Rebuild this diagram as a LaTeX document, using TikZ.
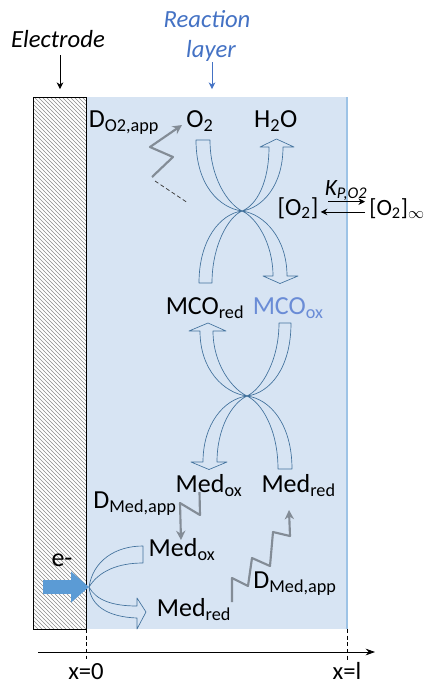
\documentclass[tikz,border=0pt]{standalone}
\usepackage{fontspec}
\setmainfont{Carlito}
\usepackage{tikz}
\usetikzlibrary{arrows.meta,patterns,positioning}
\definecolor{layerblue}{HTML}{D7E4F3}
\definecolor{layeredge}{HTML}{9DC3E6}
\definecolor{titleblue}{HTML}{4472C4}
\definecolor{bandblue}{HTML}{41719C}
\definecolor{eblue}{HTML}{5B9BD5}
\definecolor{zzgray}{HTML}{838C96}
\definecolor{mcoblue}{HTML}{6A8CD6}
\tikzset{%
	chem/.style    = {inner sep=0pt, anchor=base, font=\fontsize{19.5}{21}\selectfont},
	title/.style   = {inner sep=0pt, anchor=base, font=\fontsize{18.5}{20}\selectfont\itshape},
	band/.style    = {draw=bandblue, fill=layerblue, line width=0.5pt, line join=round}, % curved arrows
	zigzag/.style  = {draw=zzgray, line width=1.6pt, line join=round, -{Stealth[length=7pt,width=7pt]}},
	dashline/.style= {draw=black!75, densely dashed, line width=0.6pt},
	arrow/.style   = {-{Stealth[length=5pt,width=5pt]}, line width=0.6pt},
	tick/.style    = {densely dashed, line width=0.5pt},
	earrow/.style  = {draw=eblue, line width=10.5pt, -{Triangle[length=13.5pt,width=22.5pt]}},
}
\begin{document}
\begin{tikzpicture}[x=0.75pt,y=-0.75pt]
	\useasboundingbox (0,0) rectangle (427,687);
	% electrode and reaction layer
	\fill[layerblue] (86,97) rectangle (347,629);
	\draw[layeredge, line width=1pt] (347,97) -- (347,629);
	\draw[pattern=north west lines, pattern color=black!45, line width=0.6pt] (33,97) rectangle (86,629);
	
	\node [title] (electrode) at (58,47) {Electrode};
	\node [title,text=titleblue] (reaction) at (207,27) {Reaction};
	\node [title,text=titleblue] (layer) at (211,57) {layer};
	\coordinate (etip) at (60,89);
	\coordinate (rtip) at (212,89);
	\draw[arrow] (electrode.south -| etip) ++(0,8) -- (etip);
	\draw[arrow,titleblue] (layer.south -| rtip) ++(0,1) -- (rtip);
	
	% oxygen side
	\node [chem] (o2) at (200,127) {O\textsubscript{2}};
	\node [chem,base right=30pt of o2] (h2o) {H\textsubscript{2}O};
	\node [chem] (do2) at (124,127) {D\textsubscript{O2,app}};
	\node [chem,font=\fontsize{17.5}{19}\selectfont\itshape] (kp) at (346,195) {K\textsubscript{P,O2}};
	\node [chem,font=\fontsize{18.5}{20}\selectfont] (o2in) at (298,215) {[O\textsubscript{2}]};
	\node [chem,anchor=base east,font=\fontsize{17.5}{19}\selectfont] (o2inf) at (425,215) {[O\textsubscript{2}]\textsubscript{$\infty$}};
	\draw[arrow] ([xshift=7pt,yshift=10pt]o2in.base east) -- ([xshift=-3pt,yshift=10pt]o2inf.base west);
	\draw[arrow] ([xshift=-3pt,yshift=2.3pt]o2inf.base west) -- ([xshift=1.5pt,yshift=2.3pt]o2in.base east);
	
	% enzyme and mediator
	\node [chem] (mcored) at (205,314) {MCO\textsubscript{red}};
	\node [chem,base right=6pt of mcored,text=mcoblue] (mcoox) {MCO\textsubscript{ox}};
	\node [chem] (medox) at (209,492) {Med\textsubscript{ox}};
	\node [chem,base right=14pt of medox] (medred) {Med\textsubscript{red}};
	\node [chem] (dmed) at (135,508) {D\textsubscript{Med,app}};
	\node [chem] (medoxs) at (182,556) {Med\textsubscript{ox}};
	\node [chem] (medreds) at (194,616) {Med\textsubscript{red}};
	\node [chem] (dmeds) at (295,588) {D\textsubscript{Med,app}};
	\node [chem] (elec) at (62,566) {e-};
	
	% O2 -> H2O and MCOred -> MCOox
	\draw[band] (196,140) -- (210,140) .. controls (210,178) and (228,204) .. (242,211)
		.. controls (257,205) and (269,182) .. (269,147) -- (260,147) -- (276.5,139) -- (294,147) -- (283,147)
		.. controls (283,186) and (262,208) .. (242,211) .. controls (220,208) and (196,186) .. cycle;
	\draw[band] (199,283) -- (212,283) .. controls (212,246) and (228,217) .. (242,211)
		.. controls (256,217) and (273,243) .. (273,276) -- (263,276) -- (280,283.5) -- (298,276) -- (287,276)
		.. controls (287,238) and (264,214) .. (242,211) .. controls (220,214) and (199,240) .. cycle;
	% MCOox -> MCOred and Medred -> Medox
	\draw[band] (291,323) -- (279,323) .. controls (279,360) and (262,389) .. (247,396)
		.. controls (232,389) and (213,364) .. (213,331) -- (226,331) -- (208,323) -- (189,331) -- (200,331)
		.. controls (200,370) and (224,393) .. (247,396) .. controls (270,393) and (291,368) .. cycle;
	\draw[band] (292,469) -- (278,469) .. controls (278,430) and (262,403) .. (247,396)
		.. controls (232,403) and (217,428) .. (217,462) -- (227,462) -- (209,469.5) -- (191,462) -- (203,462)
		.. controls (203,424) and (224,399) .. (247,396) .. controls (270,399) and (292,424) .. cycle;
	
	% electron transfer at x=0
	\coordinate (estart) at (43,587);
	\coordinate (efork) at (89,587);
	\draw[earrow] (estart) -- (efork);
	\draw[band] (efork) .. controls (93,561) and (115,546) .. (143,546) -- (143,563) .. controls (118,563) and (99,571) .. cycle;
	\draw[band] (efork) .. controls (96,600) and (112,606) .. (137,606) -- (137,598) -- (146,612) -- (137,629) -- (137,618)
		.. controls (108,617) and (91,606) .. cycle;
	
	% diffusion
	\coordinate (zo) at (152,177);
	\coordinate (zotip) at (182,125);
	\draw[zigzag] (zo) -- (173,157) -- (150,147) -- (zotip);
	\coordinate (dsh1) at (155,181);
	\coordinate (dsh2) at (188,203);
	\draw[dashline] (dsh1) -- (dsh2);
	\coordinate (zm) at (199.5,492);
	\coordinate (zmtip) at (181,540);
	\draw[zigzag] (zm) -- (200,515) -- (180,503) -- (zmtip);
	\coordinate (zr) at (232,602);
	\coordinate (zrtip) at (289,510);
	\draw[zigzag] (zr) -- (232,578) -- (248,586) -- (252,558) -- (270,566) -- (273,532) -- (290,536) -- (zrtip);
	
	% axis
	\coordinate (axl) at (38,652);
	\coordinate (axr) at (375,652);
	\draw[-{Stealth[length=7pt,width=5pt]},line width=0.6pt] (axl) -- (axr);
	\node [chem,font=\fontsize{18.5}{20}\selectfont] (x0) at (86,679) {x=0};
	\node [chem,font=\fontsize{18.5}{20}\selectfont] (xl) at (347,679) {x=l};
	\draw[tick] (86,629) -- (x0.north |- 0,659);
	\draw[tick] (347,629) -- (xl.north |- 0,661);
\end{tikzpicture}
\end{document}
